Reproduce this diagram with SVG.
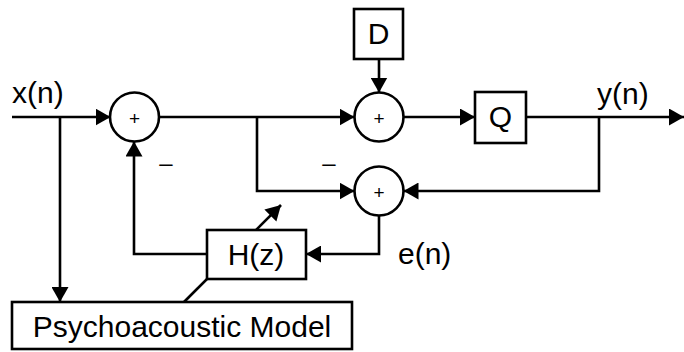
<svg xmlns="http://www.w3.org/2000/svg" width="684" height="352" viewBox="0 0 684 352">
<defs>
<marker id="arr" viewBox="0 0 15 17" refX="15" refY="8.5" markerWidth="15" markerHeight="17" orient="auto" markerUnits="userSpaceOnUse">
<path d="M0,0 L15,8.5 L0,17 Z" fill="#000"/>
</marker>
<style>
.ln{fill:none;stroke:#000;stroke-width:2.6;marker-end:url(#arr)}
.bx{fill:#fff;stroke:#000;stroke-width:2.6}
.t{font-family:"Liberation Sans",Arial,sans-serif;font-size:30px;fill:#000}
.tc{text-anchor:middle}
.p{font-family:"Liberation Sans",Arial,sans-serif;font-size:19px;fill:#000;text-anchor:middle}
.m{font-family:"Liberation Sans",Arial,sans-serif;font-size:24px;fill:#000;text-anchor:middle}
</style>
</defs>
<g id="connectors">
<path class="ln" d="M12,117 L110.5,117"/>
<path class="ln" d="M159.5,117 L354.5,117"/>
<path class="ln" d="M379,59 L379,92.5"/>
<path class="ln" d="M403.5,117 L475,117"/>
<path class="ln" d="M526,117 L684,117"/>
<path class="ln" d="M599,117 L599,191 L403.5,191"/>
<path class="ln" d="M257,117 L257,191 L354.5,191"/>
<path class="ln" d="M379,215.5 L379,254 L306,254"/>
<path class="ln" d="M207,254 L134,254 L134,141.5"/>
<path class="ln" d="M60,117 L60,302"/>
<path class="ln" d="M184,302 L281,205"/>
</g>
<g id="sum1">
<circle class="bx" cx="134.5" cy="117" r="24.5"/>
<text class="p" x="134.5" y="125">+</text>
</g>
<g id="sum2">
<circle class="bx" cx="379" cy="117" r="24.5"/>
<text class="p" x="379" y="125">+</text>
</g>
<g id="sum3">
<circle class="bx" cx="379" cy="191" r="24.5"/>
<text class="p" x="379" y="199">+</text>
</g>
<g id="D">
<rect class="bx" x="354" y="9" width="49" height="50"/>
<text class="t tc" x="378.5" y="44">D</text>
</g>
<g id="Q">
<rect class="bx" x="475" y="92" width="51" height="51"/>
<text class="t tc" x="500.5" y="127">Q</text>
</g>
<g id="H">
<rect class="bx" x="207" y="230" width="99" height="49"/>
<text class="t tc" x="256" y="265">H(z)</text>
</g>
<g id="psy">
<rect class="bx" x="12" y="302" width="340" height="47"/>
<text class="t tc" x="182" y="337">Psychoacoustic Model</text>
</g>
<g id="labels">
<text class="t" x="12" y="103">x(n)</text>
<text class="t" x="597" y="104">y(n)</text>
<text class="t" x="398" y="264">e(n)</text>
<text class="m" x="166" y="171">–</text>
<text class="m" x="329" y="171">–</text>
</g>
</svg>
